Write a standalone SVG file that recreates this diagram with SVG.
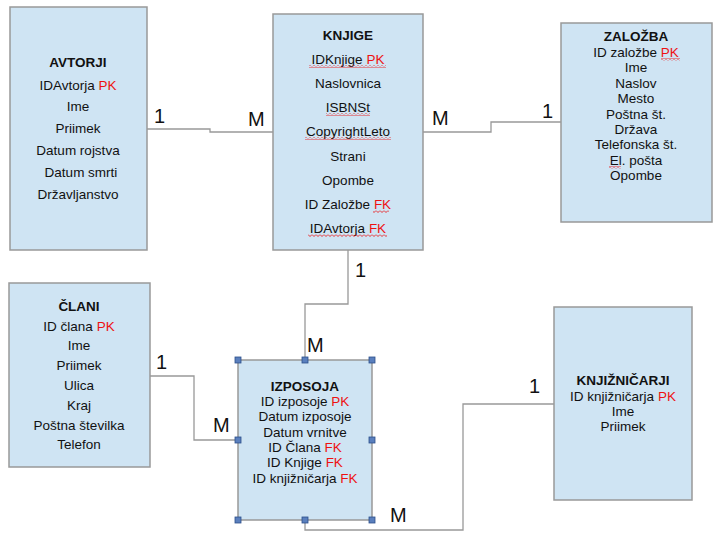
<svg xmlns="http://www.w3.org/2000/svg" width="726" height="543" viewBox="0 0 726 543">
<style>
.box{fill:#cfe4f3;stroke:#999;stroke-width:1.5}
text{font-family:"Liberation Sans",Arial,sans-serif;font-size:13.5px;fill:#111;text-anchor:middle}
.t{font-weight:bold}
.r{fill:#ee1111}
.lbl{font-size:20px;text-anchor:start}
.conn{fill:none;stroke:#999;stroke-width:1.3}
.h{fill:#5a7fbd;stroke:#2c4f8a;stroke-width:0.8}
.sq{fill:url(#wave)}
</style>
<defs>
<pattern id="wave" width="4" height="3" patternUnits="userSpaceOnUse">
<path d="M0,0.5 L2,2.5 L4,0.5" fill="none" stroke="#e00" stroke-width="0.8"/>
</pattern>
</defs>
<g id="connectors">
<path class="conn" d="M147,129 H210 V132 H274"/>
<path class="conn" d="M423,132 H491 V122 H561"/>
<path class="conn" d="M348,250 V304 H305 V360"/>
<path class="conn" d="M150,376 H194 V440 H238"/>
<path class="conn" d="M305,520 V530 H463 V404 H554"/>
<text class="lbl" x="154" y="123">1</text>
<text class="lbl" x="248" y="126">M</text>
<text class="lbl" x="432" y="125">M</text>
<text class="lbl" x="542" y="118">1</text>
<text class="lbl" x="355" y="277">1</text>
<text class="lbl" x="307" y="352">M</text>
<text class="lbl" x="156" y="369">1</text>
<text class="lbl" x="213" y="432">M</text>
<text class="lbl" x="390" y="522">M</text>
<text class="lbl" x="529" y="393">1</text>
</g>
<g id="avtorji">
<rect class="box" x="10" y="7" width="137" height="243"/>
<text class="t" x="78" y="67">AVTORJI</text>
<text x="78" y="90">IDAvtorja <tspan class="r">PK</tspan></text>
<text x="78" y="111">Ime</text>
<text x="78" y="133">Priimek</text>
<text x="78" y="155">Datum rojstva</text>
<text x="81" y="177">Datum smrti</text>
<text x="78" y="199">Državljanstvo</text>
</g>
<g id="knjige">
<rect class="box" x="273" y="14" width="150" height="236"/>
<text class="t" x="348" y="40">KNJIGE</text>
<text x="348" y="64">IDKnjige <tspan class="r">PK</tspan></text>
<text x="348" y="88">Naslovnica</text>
<text x="348" y="112">ISBNSt</text>
<text x="348" y="136">CopyrightLeto</text>
<text x="348" y="161">Strani</text>
<text x="348" y="185">Opombe</text>
<text x="348" y="209">ID Založbe <tspan class="r">FK</tspan></text>
<text x="348" y="233">IDAvtorja <tspan class="r">FK</tspan></text>
<rect class="sq" x="309" y="65" width="77" height="3"/>
<rect class="sq" x="326" y="113" width="44" height="3"/>
<rect class="sq" x="305" y="137" width="86" height="3"/>
<rect class="sq" x="373" y="210" width="16" height="3"/>
<rect class="sq" x="308" y="234" width="79" height="3"/>
</g>
<g id="zalozba">
<rect class="box" x="561" y="23" width="151" height="199"/>
<text class="t" x="636" y="41">ZALOŽBA</text>
<text x="636" y="57">ID založbe <tspan class="r">PK</tspan></text>
<text x="636" y="72">Ime</text>
<text x="636" y="88">Naslov</text>
<text x="636" y="103">Mesto</text>
<text x="636" y="119">Poštna št.</text>
<text x="636" y="134">Država</text>
<text x="636" y="149">Telefonska št.</text>
<text x="636" y="165">El. pošta</text>
<text x="636" y="180">Opombe</text>
<rect class="sq" x="661" y="58" width="19" height="3"/>
<rect class="sq" x="609" y="166" width="12" height="3"/>
</g>
<g id="clani">
<rect class="box" x="9" y="283" width="141" height="184"/>
<text class="t" x="79" y="311">ČLANI</text>
<text x="79" y="331">ID člana <tspan class="r">PK</tspan></text>
<text x="79" y="350">Ime</text>
<text x="79" y="370">Priimek</text>
<text x="79" y="390">Ulica</text>
<text x="79" y="410">Kraj</text>
<text x="79" y="430">Poštna številka</text>
<text x="79" y="449">Telefon</text>
</g>
<g id="izposoja">
<rect class="box" x="238" y="360" width="134" height="160"/>
<text class="t" x="305" y="391">IZPOSOJA</text>
<text x="305" y="406">ID izposoje <tspan class="r">PK</tspan></text>
<text x="305" y="421">Datum izposoje</text>
<text x="305" y="437">Datum vrnitve</text>
<text x="305" y="452">ID Člana <tspan class="r">FK</tspan></text>
<text x="305" y="467">ID Knjige <tspan class="r">FK</tspan></text>
<text x="305" y="483">ID knjižničarja <tspan class="r">FK</tspan></text>
<rect class="h" x="235" y="357" width="6" height="6"/>
<rect class="h" x="302" y="357" width="6" height="6"/>
<rect class="h" x="369" y="357" width="6" height="6"/>
<rect class="h" x="235" y="437" width="6" height="6"/>
<rect class="h" x="369" y="437" width="6" height="6"/>
<rect class="h" x="235" y="517" width="6" height="6"/>
<rect class="h" x="302" y="517" width="6" height="6"/>
<rect class="h" x="369" y="517" width="6" height="6"/>
</g>
<g id="knjiznicarji">
<rect class="box" x="554" y="307" width="138" height="193"/>
<text class="t" x="623" y="385">KNJIŽNIČARJI</text>
<text x="623" y="401">ID knjižničarja <tspan class="r">PK</tspan></text>
<text x="623" y="416">Ime</text>
<text x="623" y="431">Priimek</text>
</g>
</svg>
